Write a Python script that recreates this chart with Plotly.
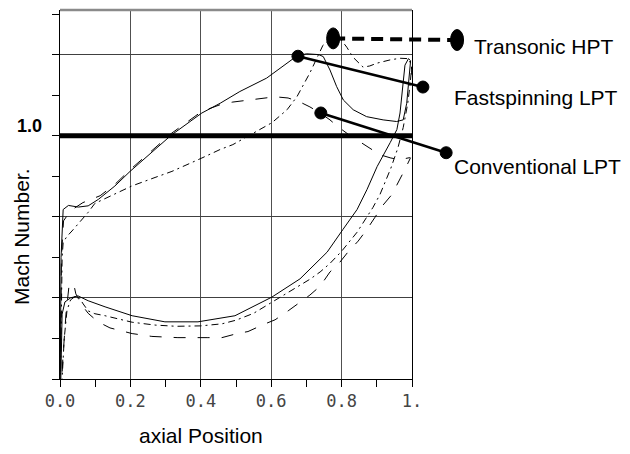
import plotly.graph_objects as go

# ---------------- data ----------------
Y_MIN, Y_MAX = 0.4, 1.31

# Fastspinning LPT (solid)
fs_ss_x = [0.0, 0.003, 0.009, 0.024, 0.052, 0.080, 0.109, 0.156, 0.199, 0.270, 0.317, 0.403, 0.455,
           0.511, 0.587, 0.672, 0.700, 0.735, 0.748, 0.767, 0.786, 0.805, 0.833, 0.871, 0.918, 0.956,
           0.975, 0.985, 0.992, 0.996]
fs_ss_y = [0.30, 0.70, 0.818, 0.828, 0.824, 0.827, 0.843, 0.876, 0.912, 0.966, 1.002, 1.056, 1.080,
           1.109, 1.142, 1.196, 1.202, 1.200, 1.195, 1.162, 1.121, 1.088, 1.064, 1.047, 1.039, 1.035,
           1.039, 1.080, 1.150, 1.185]
fs_ps_x = [0.0, 0.003, 0.006, 0.014, 0.030, 0.051, 0.065, 0.080, 0.128, 0.205, 0.298, 0.392, 0.497,
           0.602, 0.682, 0.759, 0.804, 0.844, 0.872, 0.901, 0.938, 0.957, 0.966, 0.974, 0.980, 0.990, 0.996]
fs_ps_y = [0.30, 0.50, 0.56, 0.59, 0.600, 0.605, 0.600, 0.593, 0.578, 0.556, 0.541, 0.541, 0.556,
           0.602, 0.647, 0.713, 0.769, 0.818, 0.867, 0.924, 0.983, 1.015, 1.056, 1.130, 1.174, 1.190, 1.185]

# Transonic HPT (dash-dot)
th_ss_x = [0.0, 0.006, 0.009, 0.020, 0.034, 0.063, 0.080, 0.099, 0.204, 0.270, 0.318, 0.403, 0.455,
           0.491, 0.568, 0.602, 0.645, 0.673, 0.710, 0.747, 0.776, 0.800, 0.815, 0.832, 0.861, 0.880,
           0.901, 0.938, 0.966, 0.990, 0.998, 1.0]
th_ss_y = [0.30, 0.70, 0.737, 0.752, 0.765, 0.794, 0.811, 0.833, 0.876, 0.897, 0.912, 0.945, 0.966,
           0.978, 1.015, 1.032, 1.064, 1.096, 1.155, 1.223, 1.245, 1.235, 1.218, 1.194, 1.169, 1.172,
           1.179, 1.187, 1.191, 1.190, 1.175, 1.150]
th_ps_x = [0.0, 0.012, 0.020, 0.030, 0.045, 0.055, 0.066, 0.080, 0.099, 0.128, 0.205, 0.270, 0.330,
           0.400, 0.460, 0.500, 0.550, 0.600, 0.648, 0.682, 0.710, 0.739, 0.767, 0.800, 0.844, 0.889,
           0.909, 0.940, 0.960, 0.975, 0.988, 0.995, 0.999, 1.0]
th_ps_y = [0.30, 0.50, 0.57, 0.595, 0.605, 0.600, 0.585, 0.568, 0.561, 0.556, 0.540, 0.533, 0.530,
           0.531, 0.536, 0.545, 0.562, 0.588, 0.612, 0.630, 0.646, 0.664, 0.685, 0.715, 0.762, 0.823,
           0.855, 0.920, 0.970, 1.020, 1.080, 1.130, 1.170, 1.150]

# Conventional LPT (long dash)
cv_ss_x = [0.0, 0.004, 0.010, 0.030, 0.065, 0.114, 0.156, 0.199, 0.270, 0.317, 0.403, 0.460, 0.491,
           0.534, 0.574, 0.611, 0.648, 0.682, 0.710, 0.739, 0.767, 0.790, 0.832, 0.852, 0.909, 0.940,
           0.966, 0.994]
cv_ss_y = [0.30, 0.70, 0.79, 0.815, 0.835, 0.852, 0.880, 0.916, 0.970, 1.006, 1.060, 1.078, 1.083,
           1.088, 1.091, 1.096, 1.093, 1.083, 1.071, 1.056, 1.039, 1.022, 0.995, 0.985, 0.953, 0.945,
           0.941, 0.946]
cv_ps_x = [0.0, 0.008, 0.017, 0.025, 0.032, 0.040, 0.045, 0.060, 0.080, 0.108, 0.142, 0.205, 0.261,
           0.335, 0.418, 0.460, 0.503, 0.534, 0.577, 0.611, 0.648, 0.676, 0.710, 0.739, 0.767, 0.795,
           0.818, 0.847, 0.872, 0.895, 0.915, 0.943, 0.966, 0.980, 0.990, 0.996]
cv_ps_y = [0.30, 0.45, 0.56, 0.625, 0.637, 0.630, 0.610, 0.585, 0.562, 0.541, 0.526, 0.512, 0.505,
           0.502, 0.502, 0.502, 0.512, 0.517, 0.534, 0.546, 0.568, 0.585, 0.607, 0.629, 0.664, 0.688,
           0.713, 0.740, 0.769, 0.799, 0.826, 0.855, 0.892, 0.917, 0.935, 0.946]

# callouts: (start point on curve, end point near label), in data units
callout_names = ["Transonic HPT", "Fastspinning LPT", "Conventional LPT"]
callout_start = [(0.776, 1.240), (0.676, 1.196), (0.741, 1.056)]
callout_end = [(1.128, 1.236), (1.031, 1.120), (1.097, 0.958)]
label_pos = [(1.170, 1.220), (1.114, 1.095), (1.114, 0.924)]

x_tickvals = [0.0, 0.2, 0.4, 0.6, 0.8, 1.0]
x_ticktext = ["0.0", "0.2", "0.4", "0.6", "0.8", "1."]
y_gridvals = [0.4, 0.6, 0.8, 1.0, 1.2]

# ---------------- figure ----------------
def py(v):
    return (v - Y_MIN) / (Y_MAX - Y_MIN)

fig = go.Figure()
line_solid = dict(color="black", width=1)
line_dd = dict(color="black", width=1, dash="7px,4px,2px,4px")
line_ld = dict(color="black", width=1, dash="12px,12px")

for xs, ys, ln in [(fs_ss_x, fs_ss_y, line_solid), (fs_ps_x, fs_ps_y, line_solid),
                   (th_ss_x, th_ss_y, line_dd), (th_ps_x, th_ps_y, line_dd),
                   (cv_ss_x, cv_ss_y, line_ld), (cv_ps_x, cv_ps_y, line_ld)]:
    fig.add_trace(go.Scatter(x=xs, y=ys, mode="lines", line=ln, showlegend=False,
                             hoverinfo="skip"))

shapes = []
# thick sonic line
shapes.append(dict(type="line", xref="x", yref="y", x0=0, x1=1.0, y0=1.0, y1=1.0,
                   line=dict(color="black", width=5)))
# top border (gray)
shapes.append(dict(type="line", xref="paper", yref="paper", x0=0, x1=1, y0=1, y1=1,
                   line=dict(color="#8a8a8a", width=2.5)))

for i, name in enumerate(callout_names):
    (x0, y0), (x1, y1) = callout_start[i], callout_end[i]
    if i == 0:
        shapes.append(dict(type="line", xref="paper", yref="paper", x0=x0, y0=py(y0), x1=x1, y1=py(y1),
                           line=dict(color="black", width=4, dash="12px,7px")))
        for (cx, cy) in [(x0, y0), (x1, y1)]:
            shapes.append(dict(type="circle", xref="paper", yref="paper", xsizemode="pixel",
                               ysizemode="pixel", xanchor=cx, yanchor=py(cy), x0=-6.5, x1=6.5,
                               y0=-10.5, y1=10.5, fillcolor="black", line=dict(color="black", width=1)))
    else:
        shapes.append(dict(type="line", xref="paper", yref="paper", x0=x0, y0=py(y0), x1=x1, y1=py(y1),
                           line=dict(color="black", width=2.5)))
        for (cx, cy) in [(x0, y0), (x1, y1)]:
            shapes.append(dict(type="circle", xref="paper", yref="paper", xsizemode="pixel",
                               ysizemode="pixel", xanchor=cx, yanchor=py(cy), x0=-6, x1=6,
                               y0=-6, y1=6, fillcolor="black", line=dict(color="black", width=1)))

annotations = []
for i, name in enumerate(callout_names):
    lx, ly = label_pos[i]
    annotations.append(dict(text=name, xref="paper", yref="paper", x=lx, y=py(ly),
                            xanchor="left", yanchor="middle", showarrow=False,
                            font=dict(family="Liberation Sans, Arial", size=21, color="black")))
annotations.append(dict(text="<b>1.0</b>", xref="paper", yref="paper", x=-0.046, y=py(1.025),
                        xanchor="right", yanchor="middle", showarrow=False,
                        font=dict(family="Liberation Sans, Arial", size=18, color="black")))
annotations.append(dict(text="Mach Number.", xref="paper", yref="paper", x=-0.1108, y=0.3875,
                        xanchor="center", yanchor="middle", textangle=-90, showarrow=False,
                        borderpad=0,
                        font=dict(family="Liberation Sans, Arial", size=21, color="black")))
annotations.append(dict(text="axial Position", xref="paper", yref="paper", x=0.40, y=-0.154,
                        xanchor="center", yanchor="middle", showarrow=False,
                        font=dict(family="Liberation Sans, Arial", size=21, color="black")))

fig.update_layout(
    width=630, height=454,
    margin=dict(l=52, r=226, t=2, b=83),
    paper_bgcolor="white", plot_bgcolor="white",
    shapes=shapes, annotations=annotations,
    xaxis=dict(range=[0, 1.0], tickvals=x_tickvals, ticktext=x_ticktext,
               ticks="outside", ticklen=7, tickcolor="black", tickwidth=1,
               minor=dict(dtick=0.1, tick0=0, ticks="outside", ticklen=7, tickcolor="black",
                          showgrid=False),
               showgrid=True, gridcolor="#505050", gridwidth=1,
               showline=True, linecolor="black", linewidth=1, mirror=False, zeroline=False,
               tickfont=dict(family="DejaVu Sans Mono", size=17, color="#444444")),
    yaxis=dict(range=[Y_MIN, Y_MAX], tickvals=y_gridvals, ticktext=[""] * len(y_gridvals),
               ticks="outside", ticklen=7, tickcolor="black", tickwidth=1,
               minor=dict(dtick=0.1, tick0=0.4, ticks="outside", ticklen=7, tickcolor="black",
                          showgrid=False),
               showgrid=True, gridcolor="#404040", gridwidth=1,
               showline=True, linecolor="black", linewidth=1, mirror=True, zeroline=False),
)

fig.write_html("out.html")
